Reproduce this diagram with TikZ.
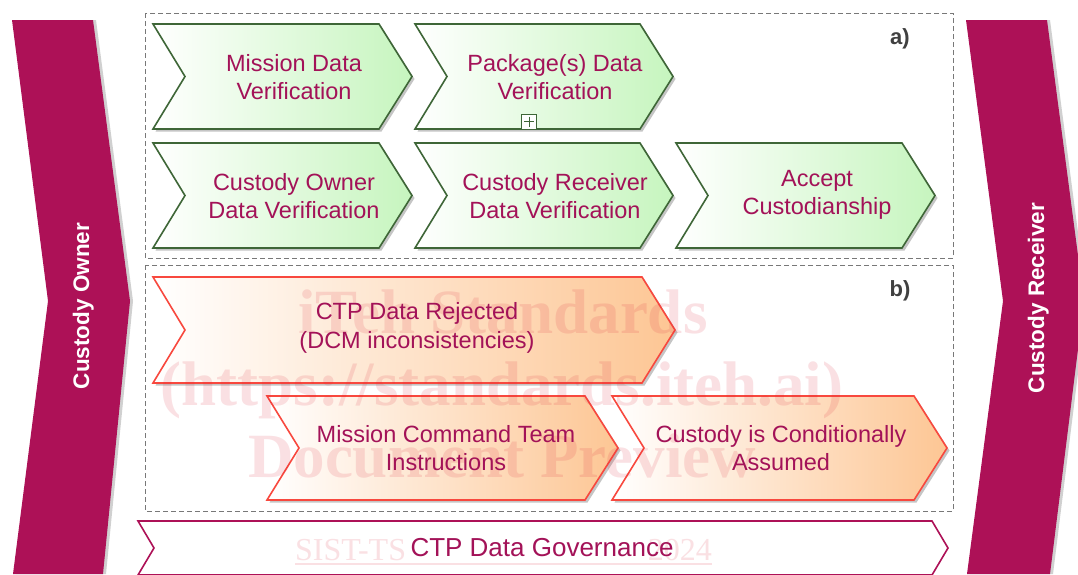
\documentclass[tikz,border=0pt]{standalone}
\usepackage{fontspec}
\setmainfont{Liberation Sans}
\newfontfamily\wmfont{Liberation Serif}
\usetikzlibrary{shadows}
\definecolor{mag}{RGB}{173,17,87}
\definecolor{txtmag}{RGB}{163,18,88}
\definecolor{grnline}{RGB}{62,102,55}
\definecolor{grnfill}{RGB}{198,245,190}
\definecolor{redline}{RGB}{248,72,62}
\definecolor{orgfill}{RGB}{253,198,148}
\definecolor{wmred}{RGB}{220,40,60}
\definecolor{labelgray}{RGB}{64,64,64}
\definecolor{dashgray}{RGB}{120,120,120}
\newcommand{\chevshape}[4]{(#1,#3) -- ({#2-33},#3) -- (#2,{(#3+#4)/2}) -- ({#2-33},#4) -- (#1,#4) -- ({#1+32},{(#3+#4)/2}) -- cycle}
\tikzset{
  chevlabel/.style={text=txtmag, align=center, font=\fontsize{23.5}{28.5}\selectfont, inner sep=0pt},
  greenchev/.style={draw=grnline, line width=1.6pt, left color=white, right color=grnfill,
    drop shadow={shadow xshift=2.5pt, shadow yshift=-2.5pt, fill=black!45, opacity=0.5}},
  redchev/.style={draw=redline, line width=1.6pt, left color=white, right color=orgfill,
    drop shadow={shadow xshift=2.5pt, shadow yshift=-2.5pt, fill=black!45, opacity=0.5}},
  banner/.style={fill=mag, drop shadow={shadow xshift=3pt, shadow yshift=0pt, fill=black!30, opacity=0.6}},
  bannertext/.style={text=white, font=\fontsize{22.5}{27}\selectfont\bfseries, rotate=90, anchor=base, inner sep=0pt},
  groupbox/.style={draw=dashgray, dash pattern=on 5pt off 3pt, line width=0.9pt},
  grouplabel/.style={text=labelgray, font=\fontsize{22}{26}\selectfont\bfseries, inner sep=0pt},
  govbar/.style={draw=mag, line width=1.6pt, fill=white},
  govtext/.style={text=txtmag, font=\fontsize{26}{30}\selectfont, inner sep=0pt},
  wmtext/.style={text=wmred, opacity=0.14, font=\wmfont\fontsize{63}{72}\selectfont\bfseries, anchor=base, inner sep=0pt},
  wmsmall/.style={text=wmred, opacity=0.14, font=\wmfont\fontsize{32}{38}\selectfont, inner sep=0pt},
  plusbox/.style={draw=grnline, fill=white, minimum size=15pt, inner sep=0pt, line width=1pt},
}
\begin{document}
\begin{tikzpicture}[x=1pt,y=-1pt]
\useasboundingbox (0,0) rectangle (1078,574);
\clip (0,0) rectangle (1078,574);
\fill[white] (0,0) rectangle (1078,574);

% group boxes
\draw[groupbox] (145,13) rectangle (953,258);
\draw[groupbox] (145,265) rectangle (953,511);

% banners
\path[banner] (12,20) -- (93,20) -- (130,301) -- (103,574) -- (13,574) -- (48,301) -- cycle;
\path[banner] (966,20) -- (1047,20) -- (1084,301) -- (1050,574) -- (967,574) -- (1003,301) -- cycle;

% green chevrons
\draw[greenchev] \chevshape{153}{412}{24}{129};
\draw[greenchev] \chevshape{415}{673}{24}{129};
\draw[greenchev] \chevshape{153}{412}{143}{248};
\draw[greenchev] \chevshape{415}{673}{143}{248};
\draw[greenchev] \chevshape{676}{935}{143}{248};

% red chevrons
\draw[redchev] \chevshape{153}{675}{277}{383};
\draw[redchev] \chevshape{267}{618}{396}{500};
\draw[redchev] \chevshape{612}{947}{396}{500};

% governance bar
\draw[govbar] (138,521) -- (932,521) -- (948,548) -- (932,575) -- (138,575) -- (154,548) -- cycle;

% plus marker
\node[plusbox] (plus) at (529,121.5) {};
\draw[grnline, line width=1pt] ([yshift=-3pt]plus.north) -- ([yshift=3pt]plus.south);
\draw[grnline, line width=1pt] ([xshift=3pt]plus.west) -- ([xshift=-3pt]plus.east);

% watermark (only its legible parts)
\node[wmtext] (wm1) at (503,333) {iTeh Standards};
\node[wmtext] (wm2) at (502,405) {(https://standards.iteh.ai)};
\node[wmtext] (wm3) at (502,477) {Document Preview};
\node[wmsmall, anchor=base west] (wm4) at (295,560) {SIST-TS};
\node[wmsmall, anchor=base east] (wm5) at (712,560) {2024};
\draw[wmred, opacity=0.14, line width=1.3pt] ([yshift=-4pt]wm4.base west) -- ([yshift=-4pt]wm5.base east);

% labels
\node[chevlabel] (g1) at (294,77) {Mission Data\\Verification};
\node[chevlabel] (g2) at (555,77) {Package(s) Data\\Verification};
\node[chevlabel] (g3) at (294,196) {Custody Owner\\Data Verification};
\node[chevlabel] (g4) at (555,196) {Custody Receiver\\Data Verification};
\node[chevlabel] (g5) at (817,195) {Accept\\Custodianship};
\node[chevlabel] (r1) at (417,328) {CTP Data Rejected\\(DCM inconsistencies)};
\node[chevlabel] (r2) at (446,448) {Mission Command Team\\Instructions};
\node[chevlabel] (r3) at (781,448) {Custody is Conditionally\\Assumed};
\node[govtext] (gov) at (542,548) {CTP Data Governance};

\node[grouplabel] (la) at (900,39) {a)};
\node[grouplabel] (lb) at (900,291) {b)};

\node[bannertext] (owner) at (89,306) {Custody Owner};
\node[bannertext] (receiver) at (1044,298) {Custody Receiver};
\end{tikzpicture}
\end{document}
